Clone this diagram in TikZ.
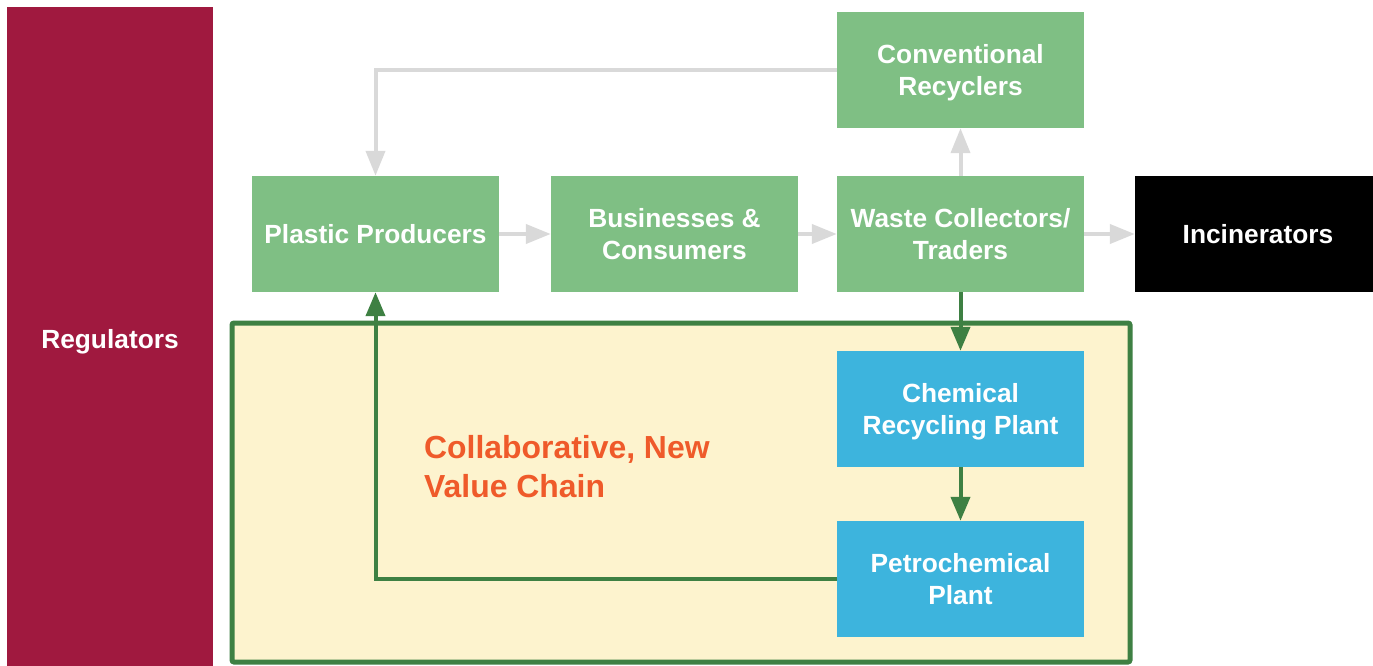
\documentclass[tikz,border=0pt]{standalone}
\usepackage{fontspec}
\setmainfont{Liberation Sans}
\usepackage{xcolor}
\usepackage{tikz}
\usetikzlibrary{arrows.meta}
\definecolor{text}{HTML}{FFFFFF}
\definecolor{leaf}{HTML}{7FBF84}
\definecolor{sky}{HTML}{3DB4DD}
\definecolor{wine}{HTML}{A0193F}
\definecolor{cream}{HTML}{FDF3CE}
\definecolor{forest}{HTML}{3E8043}
\definecolor{ash}{HTML}{D9D9D9}
\definecolor{ember}{HTML}{EF5A2A}
\tikzset{
  box/.style={rectangle, minimum width=247pt, minimum height=116pt, inner sep=0pt,
    text=text, align=center, text depth=0pt, font=\fontsize{26.3}{32}\selectfont\bfseries},
  actor/.style={box, fill=leaf},
  plant/.style={box, fill=sky},
  flow/.style={draw=ash, line width=4pt, -{Triangle[width=19pt,length=25pt]}},
  loop/.style={draw=forest, line width=4pt, -{Triangle[width=19pt,length=24pt]}},
  chain/.style={draw=forest, fill=cream, line width=5pt, rounded corners=2pt},
}
\begin{document}
\begin{tikzpicture}[x=1pt,y=-1pt]
  \useasboundingbox (0,0) rectangle (1373,666);

  % regulators band
  \node[box, fill=wine, minimum width=206pt, minimum height=659pt] (reg) at (110,336.5) {};
  \node[box] at (110,339) {Regulators};

  % new value chain frame
  \draw[chain] (232,323) rectangle (1130,662);
  \node[anchor=west, align=left, text=ember, inner sep=0pt,
    font=\fontsize{31.9}{39}\selectfont\bfseries] (vc) at (424,467) {Collaborative, New\\Value Chain};

  % actors
  \node[actor] (prod) at (375.5,234) {Plastic Producers};
  \node[actor] (cons) at (674.5,234) {Businesses \&\\Consumers};
  \node[actor] (waste) at (960.5,234) {Waste Collectors/\\Traders};
  \node[actor] (conv) at (960.5,70) {Conventional\\Recyclers};
  \node[box, fill=black, minimum width=246pt] (inc) at (1258,234) {Incinerators};
  \node[plant] (chem) at (960.5,409) {Chemical\\Recycling Plant};
  \node[plant] (petro) at (960.5,579) {Petrochemical\\Plant};

  % conventional flows
  \draw[flow] (prod) -- (cons);
  \draw[flow] (cons) -- (waste);
  \draw[flow] (waste) -- (inc);
  \draw[flow] (waste) -- (conv);
  \draw[flow] (conv.west) -| (prod.north);

  % chemical recycling loop
  \draw[loop] (waste) -- (chem);
  \draw[loop] (chem) -- (petro);
  \draw[loop] (petro.west) -| (prod.south);
\end{tikzpicture}
\end{document}
